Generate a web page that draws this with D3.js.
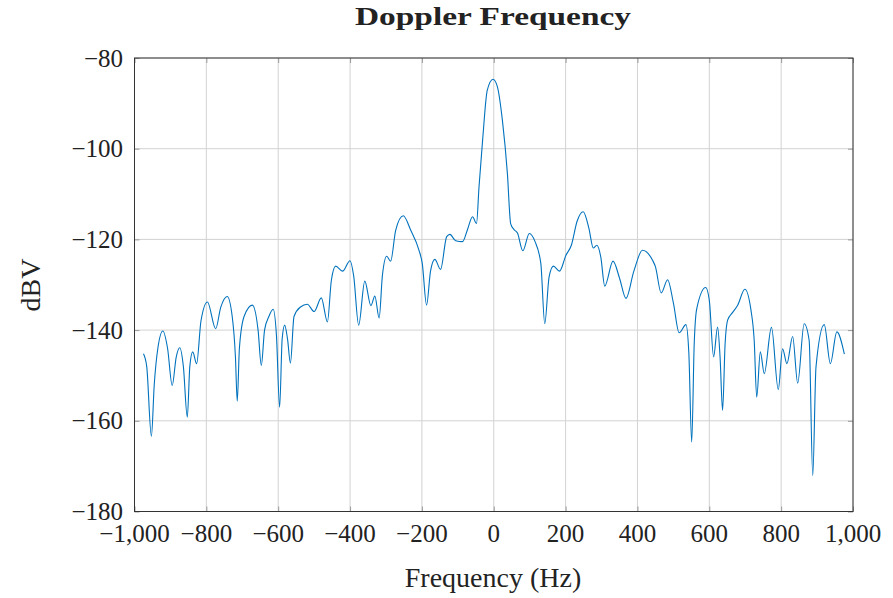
<!DOCTYPE html>
<html>
<head>
<meta charset="utf-8">
<script src="https://cdn.jsdelivr.net/npm/d3@7"></script>
<style>
  body { margin: 0; background: #fff; }
  text { font-family: "Liberation Serif", "DejaVu Serif", serif; fill: #222; }
</style>
</head>
<body>
<div id="chart"></div>
<script>
// spectrum: frequency (Hz) and level (dBV)
var freq = [-975, -966, -953, -945, -935, -921, -908, -895, -884, -874, -864, -853, -846, -838, -827, -815, -797, -774,
  -760, -742, -728, -719, -714, -708, -695, -672, -656, -647, -638, -626, -614, -605, -596, -589, -582, -574, -566,
  -556, -538, -519, -500, -480, -463, -452, -440, -421, -400, -390, -376, -359, -342, -331, -319, -310, -298, -287,
  -273, -252, -231, -208, -199, -187, -176, -164, -148, -131, -122, -106, -87, -73, -59, -48, -41, -31, -18, -2,
  10, 24, 38, 47, 56, 66, 81, 99, 115, 131, 142, 154, 166, 183, 201, 216, 232, 249, 265, 277, 287, 298, 309, 332,
  350, 368, 390, 414, 442, 450, 466, 484, 500, 516, 535, 543, 551, 558, 565, 590, 600, 612, 623, 630, 637, 644, 651,
  665, 679, 699, 716, 725, 732, 742, 753, 773, 792, 804, 816, 832, 846, 864, 878, 888, 897, 920, 937, 955, 976];
var dbv = [-145.2, -148, -163.4, -152, -144, -140.2, -144, -152.2, -146, -143.9, -148, -159.2, -148, -144.8, -147.4, -138, -133.8, -139.7,
  -135, -132.6, -137, -146, -155.7, -144, -137, -134.5, -140, -147.8, -140, -137, -135.4, -141, -157, -142, -138.9, -142, -147.3,
  -137, -134.9, -134.3, -135.9, -132.9, -138.2, -129, -125.9, -127, -124.7, -128, -138.9, -129.2, -134.6, -132.5, -137.3, -128, -123.7, -124.8,
  -118, -114.8, -118, -122.4, -125.3, -134.5, -127, -124.4, -126.6, -119.4, -118.9, -120.3, -120.5, -117.8, -115, -116.5, -108.4, -98.1, -87.1, -84.7,
  -86.3, -93.7, -105.5, -116.5, -117.8, -118.6, -122.5, -118.7, -120.5, -125.3, -138.6, -128.3, -125.9, -127, -123.5, -121.3, -116, -113.9, -117.6, -121.9, -121.3, -123.9, -130.3, -124.8,
  -128.5, -133, -127, -122.4, -124.6, -126, -131.8, -128.9, -134, -140.6, -138.8, -145, -164.7, -143, -135.3, -130.6, -133.4, -145.9, -139.3, -146, -157.7, -143, -137.8,
  -136.1, -134.5, -131, -135.6, -142.3, -154.8, -144.8, -149.6, -139.4, -153.1, -144.1, -147.4, -141.4, -151.7, -138.6, -142.3, -172.1, -148.1, -138.8, -147.4, -140.4, -145.3];

var xTicks = [-1000, -800, -600, -400, -200, 0, 200, 400, 600, 800, 1000];
var yTicks = [-180, -160, -140, -120, -100, -80];

var width = 893, height = 598,
    plotL = 134.5, plotR = 853, plotT = 58, plotB = 511.5;

var fmt = function(d) { return d3.format(",")(d).replace("-", "\u2212"); };

var svg = d3.select("#chart").append("svg")
    .attr("width", width)
    .attr("height", height);

var x = d3.scaleLinear().domain([-1000, 1000]).range([plotL, plotR]);
var y = d3.scaleLinear().domain([-180, -80]).range([plotB, plotT]);

// grid
svg.append("g").selectAll("line")
    .data(xTicks)
  .enter().append("line")
    .attr("x1", function(d) { return x(d); })
    .attr("x2", function(d) { return x(d); })
    .attr("y1", plotT).attr("y2", plotB)
    .style("stroke", "#d2d2d2").style("stroke-width", 1);

svg.append("g").selectAll("line")
    .data(yTicks)
  .enter().append("line")
    .attr("y1", function(d) { return y(d); })
    .attr("y2", function(d) { return y(d); })
    .attr("x1", plotL).attr("x2", plotR)
    .style("stroke", "#d2d2d2").style("stroke-width", 1);

// axes (ticks point inward, pgfplots style)
var tickStyle = function(g) {
  g.select(".domain").remove();
  g.selectAll(".tick line").style("stroke", "#9a9a9a");
  g.selectAll(".tick text").remove();
};
svg.append("g").attr("transform", "translate(0," + plotB + ")")
    .call(d3.axisTop(x).tickValues(xTicks).tickSize(5)).call(tickStyle);
svg.append("g").attr("transform", "translate(0," + plotT + ")")
    .call(d3.axisBottom(x).tickValues(xTicks).tickSize(5)).call(tickStyle);
svg.append("g").attr("transform", "translate(" + plotL + ",0)")
    .call(d3.axisRight(y).tickValues(yTicks).tickSize(5)).call(tickStyle);
svg.append("g").attr("transform", "translate(" + plotR + ",0)")
    .call(d3.axisLeft(y).tickValues(yTicks).tickSize(5)).call(tickStyle);

svg.append("rect")
    .attr("x", plotL).attr("y", plotT)
    .attr("width", plotR - plotL).attr("height", plotB - plotT)
    .style("fill", "none").style("stroke", "#333").style("stroke-width", 1);

// tick labels
svg.append("g").selectAll("text")
    .data(xTicks)
  .enter().append("text")
    .attr("x", function(d) { return x(d); })
    .attr("y", 542)
    .attr("text-anchor", "middle")
    .style("font-size", "25px")
    .text(fmt);

svg.append("g").selectAll("text")
    .data(yTicks)
  .enter().append("text")
    .attr("x", 123)
    .attr("y", function(d) { return y(d) + 8.5; })
    .attr("text-anchor", "end")
    .style("font-size", "25px")
    .text(fmt);

// the spectrum
var pts = freq.map(function(f, i) { return [f, dbv[i]]; });
var line = d3.line()
    .x(function(d) { return x(d[0]); })
    .y(function(d) { return y(d[1]); })
    .curve(d3.curveMonotoneX);

svg.append("path")
    .datum(pts)
    .attr("d", line)
    .style("fill", "none")
    .style("stroke", "#0072bd")
    .style("stroke-width", 1.1);

// titles
svg.append("text")
    .attr("x", 493).attr("y", 25)
    .attr("text-anchor", "middle")
    .attr("textLength", 276)
    .attr("lengthAdjust", "spacingAndGlyphs")
    .style("font-size", "25px").style("font-weight", "bold")
    .text("Doppler Frequency");

svg.append("text")
    .attr("x", 493).attr("y", 587)
    .attr("text-anchor", "middle")
    .style("font-size", "28px")
    .text("Frequency (Hz)");

svg.append("text")
    .attr("transform", "translate(40,285) rotate(-90)")
    .attr("text-anchor", "middle")
    .style("font-size", "28px")
    .text("dBV");
</script>
</body>
</html>
